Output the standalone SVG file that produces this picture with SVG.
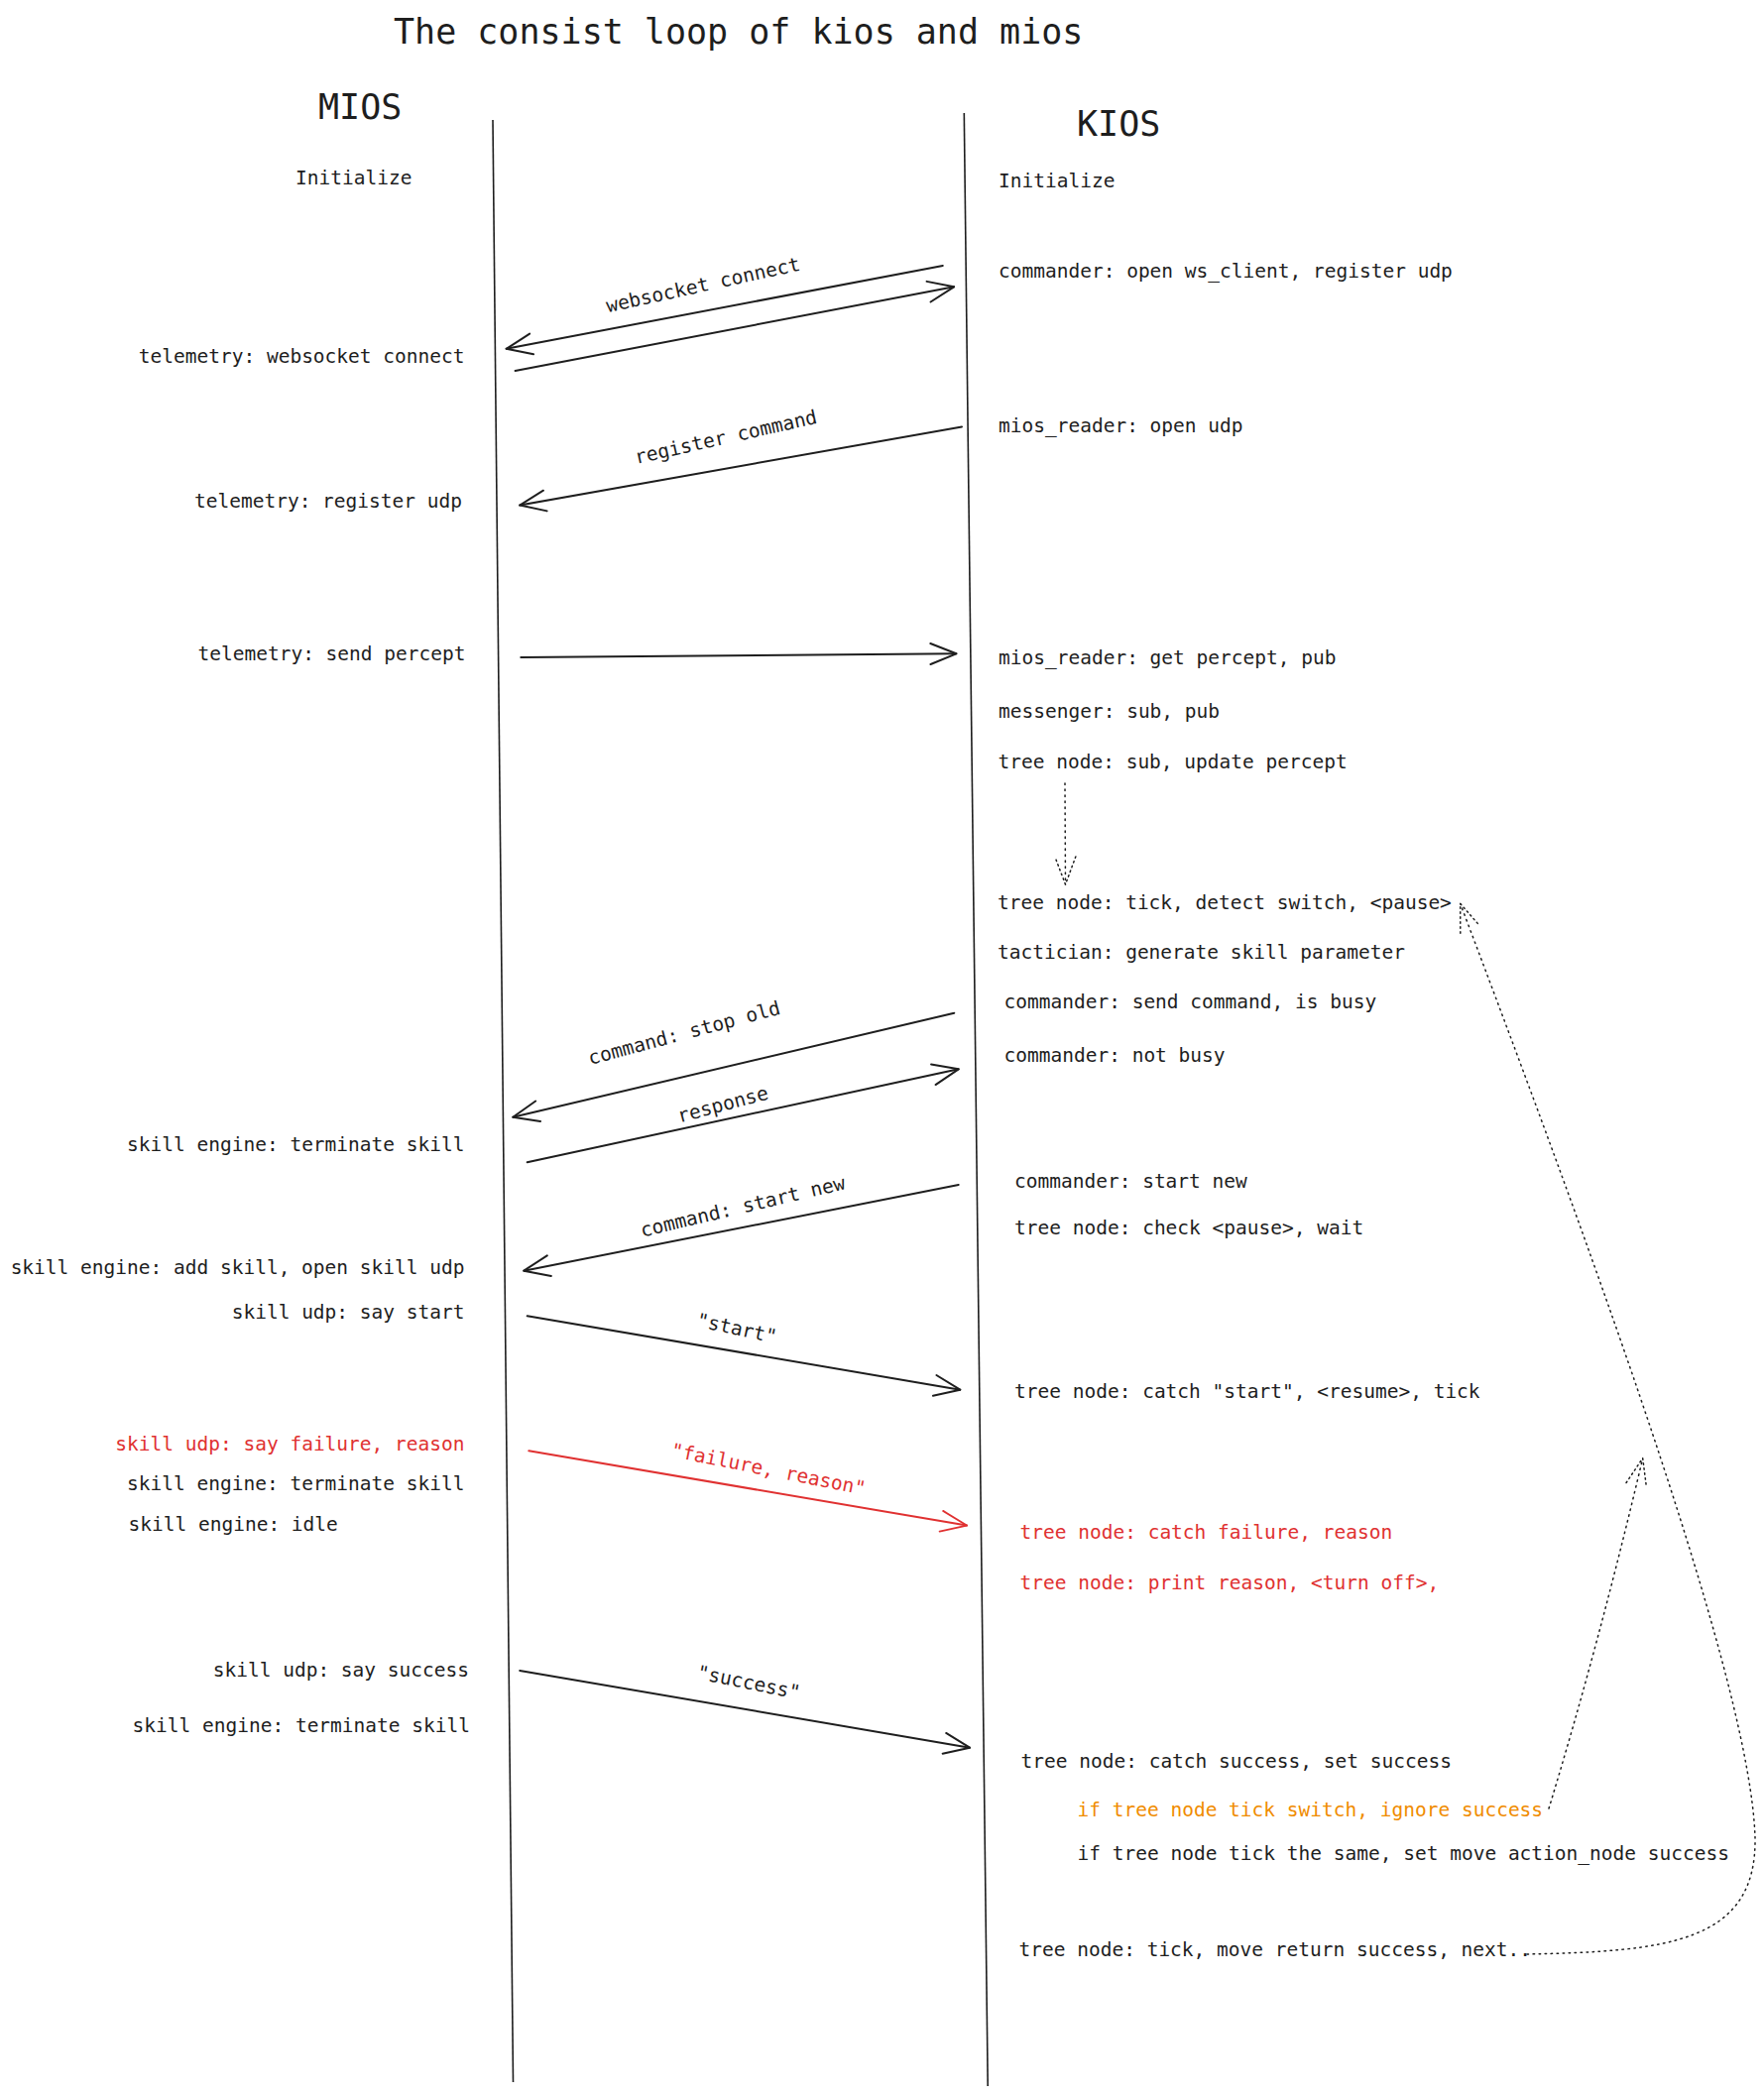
<svg xmlns="http://www.w3.org/2000/svg" width="1779" height="2114" viewBox="0 0 1779 2114">
<style>
text{font-family:"DejaVu Sans Mono","Liberation Mono",monospace;font-size:19.5px;fill:#1e1e1e}
.big{font-size:35px}
.end{text-anchor:end}
.lbl{text-anchor:middle;dominant-baseline:central}
.red{fill:#e03131}
.org{fill:#f08c00}
.life{stroke:#1e1e1e;stroke-width:1.6;fill:none}
.arr{stroke:#1e1e1e;stroke-width:2;fill:none;stroke-linecap:round;marker-end:url(#ah)}
.arr.r{stroke:#e03131;marker-end:url(#ahr)}
.dot{stroke:#1e1e1e;stroke-width:1.5;fill:none;stroke-dasharray:1.5 4.5;stroke-linecap:round;marker-end:url(#ahd)}
</style>
<defs>
<marker id="ah" markerUnits="userSpaceOnUse" viewBox="0 0 30 30" markerWidth="30" markerHeight="30" refX="28" refY="15" orient="auto"><path d="M2,4.5 L28,15 L2,25.5" fill="none" stroke="#1e1e1e" stroke-width="2" stroke-linecap="round" stroke-linejoin="round"/></marker>
<marker id="ahr" markerUnits="userSpaceOnUse" viewBox="0 0 30 30" markerWidth="30" markerHeight="30" refX="28" refY="15" orient="auto"><path d="M2,4.5 L28,15 L2,25.5" fill="none" stroke="#e03131" stroke-width="1.8" stroke-linecap="round" stroke-linejoin="round"/></marker>
<marker id="ahd" markerUnits="userSpaceOnUse" viewBox="0 0 32 32" markerWidth="32" markerHeight="32" refX="30" refY="16" orient="auto"><path d="M2,5.5 L30,16 L2,26.5" fill="none" stroke="#1e1e1e" stroke-width="1.5" stroke-dasharray="1.5 3.5" stroke-linecap="round"/></marker>
</defs>
<rect width="1779" height="2114" fill="#ffffff"/>

<g id="title"><text class="big" x="397" y="44">The consist loop of kios and mios</text></g>

<g id="mios">
<text class="big" x="321" y="120">MIOS</text>
<path class="life" d="M497,121 L517.5,2100"/>
</g>
<g id="kios">
<text class="big" x="1086" y="137">KIOS</text>
<path class="life" d="M972.3,114 L996.2,2104"/>
</g>

<g id="connectors">
<path class="arr" d="M950.8,267.9 L510.6,351.8"/>
<path class="arr" d="M519.6,374 L962.1,289.3"/>
<path class="arr" d="M970,430.4 L524.2,509.6"/>
<path class="arr" d="M525.3,662.9 L964.4,659.3"/>
<path class="arr" d="M962.3,1021.7 L517.3,1126.7"/>
<path class="arr" d="M531.7,1172.3 L966.7,1078.3"/>
<path class="arr" d="M966.7,1195 L528.3,1281.7"/>
<path class="arr" d="M531.7,1327.3 L968.3,1401.7"/>
<path class="arr r" d="M533.3,1463.3 L975,1538.6"/>
<path class="arr" d="M524.2,1685 L978,1762.7"/>
<path class="dot" d="M1074,790 L1074.5,892"/>
<path class="dot" d="M1562,1824 Q1612,1660 1656.7,1470.7"/>
<path class="dot" d="M1540,1971 C1680,1968 1772,1960 1770,1853 C1765,1700 1620,1300 1472.7,911.4"/>
<text class="lbl" transform="rotate(-12.4 709 287.5)" x="709" y="287.5">websocket connect</text>
<text class="lbl" transform="rotate(-12.7 732 441)" x="732" y="441">register command</text>
<text class="lbl" transform="rotate(-15 690 1042)" x="690" y="1042">command: stop old</text>
<text class="lbl" transform="rotate(-15 729 1114)" x="729" y="1114">response</text>
<text class="lbl" transform="rotate(-13.3 749 1217)" x="749" y="1217">command: start new</text>
<text class="lbl" transform="rotate(12.3 743 1340)" x="743" y="1340">"start"</text>
<text class="lbl red" transform="rotate(11.3 775 1482)" x="775" y="1482">"failure, reason"</text>
<text class="lbl" transform="rotate(11.5 755 1697)" x="755" y="1697">"success"</text>
</g>

<g id="m-init"><text x="298" y="185.5">Initialize</text></g>
<g id="m-ws"><text class="end" x="468.5" y="366">telemetry: websocket connect</text></g>
<g id="m-reg"><text class="end" x="466" y="511.5">telemetry: register udp</text></g>
<g id="m-send"><text class="end" x="469.5" y="666">telemetry: send percept</text></g>
<g id="m-term1"><text class="end" x="468.5" y="1161">skill engine: terminate skill</text></g>
<g id="m-add"><text class="end" x="468.5" y="1285">skill engine: add skill, open skill udp</text></g>
<g id="m-start"><text class="end" x="468.5" y="1330">skill udp: say start</text></g>
<g id="m-fail"><text class="end red" x="468.5" y="1463">skill udp: say failure, reason</text></g>
<g id="m-term2"><text class="end" x="468.5" y="1503">skill engine: terminate skill</text></g>
<g id="m-idle"><text x="129.5" y="1544">skill engine: idle</text></g>
<g id="m-succ"><text class="end" x="473" y="1691">skill udp: say success</text></g>
<g id="m-term3"><text class="end" x="474" y="1747">skill engine: terminate skill</text></g>

<g id="k-init"><text x="1007" y="188.5">Initialize</text></g>
<g id="k-cmd-open"><text x="1007" y="279.5">commander: open ws_client, register udp</text></g>
<g id="k-reader-open"><text x="1007" y="435.5">mios_reader: open udp</text></g>
<g id="k-reader-get"><text x="1007" y="669.5">mios_reader: get percept, pub</text></g>
<g id="k-messenger"><text x="1007" y="723.5">messenger: sub, pub</text></g>
<g id="k-tree-sub"><text x="1006.5" y="774.5">tree node: sub, update percept</text></g>
<g id="k-tree-tick"><text x="1006" y="917.3">tree node: tick, detect switch, &lt;pause&gt;</text></g>
<g id="k-tactician"><text x="1006" y="967.3">tactician: generate skill parameter</text></g>
<g id="k-cmd-send"><text x="1012.5" y="1017.3">commander: send command, is busy</text></g>
<g id="k-cmd-notbusy"><text x="1012.5" y="1071">commander: not busy</text></g>
<g id="k-cmd-start"><text x="1023" y="1197.5">commander: start new</text></g>
<g id="k-tree-check"><text x="1023" y="1245">tree node: check &lt;pause&gt;, wait</text></g>
<g id="k-tree-catch-start"><text x="1023" y="1409.5">tree node: catch "start", &lt;resume&gt;, tick</text></g>
<g id="k-tree-catch-fail"><text class="red" x="1028.5" y="1552.3">tree node: catch failure, reason</text></g>
<g id="k-tree-print"><text class="red" x="1028.5" y="1603">tree node: print reason, &lt;turn off&gt;,</text></g>
<g id="k-tree-catch-succ"><text x="1029.5" y="1782.8">tree node: catch success, set success</text></g>
<g id="k-if-switch"><text class="org" x="1086.5" y="1832.2">if tree node tick switch, ignore success</text></g>
<g id="k-if-same"><text x="1086.5" y="1875.5">if tree node tick the same, set move action_node success</text></g>
<g id="k-tree-next"><text x="1027.5" y="1973.2">tree node: tick, move return success, next..</text></g>
</svg>
